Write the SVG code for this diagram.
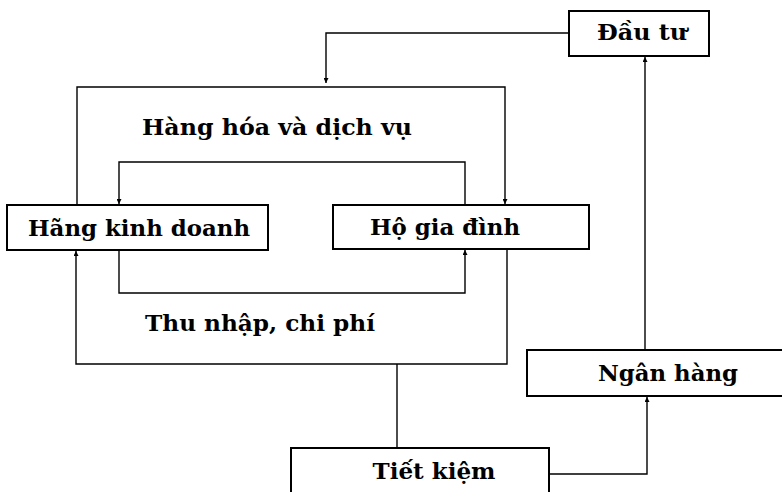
<svg xmlns="http://www.w3.org/2000/svg" width="782" height="492" viewBox="0 0 782 492">
<style>
.box{fill:#fff;stroke:#000;stroke-width:2}
.lbl{font-family:"DejaVu Serif","Liberation Serif",serif;font-weight:bold;font-size:23px;fill:#000;text-anchor:middle}
.ln{fill:none;stroke:#000;stroke-width:1.4}
</style>
<defs>
<marker id="ah" viewBox="0 0 8 8" refX="8" refY="4" markerWidth="6" markerHeight="5" markerUnits="userSpaceOnUse" orient="auto">
<path d="M0,0 L8,4 L0,8 z" fill="#000"/>
</marker>
</defs>
<rect width="782" height="492" fill="#fff"/>
<g id="connectors">
<path class="ln" d="M569,33 H326 V83" marker-end="url(#ah)"/>
<path class="ln" d="M77,205 V87 H505 V204" marker-end="url(#ah)"/>
<path class="ln" d="M465,205 V162 H119 V204" marker-end="url(#ah)"/>
<path class="ln" d="M119,250 V293 H465 V250" marker-end="url(#ah)"/>
<path class="ln" d="M507,250 V364 H76 V251" marker-end="url(#ah)"/>
<path class="ln" d="M397,364 V448"/>
<path class="ln" d="M549,474 H647 V397" marker-end="url(#ah)"/>
<path class="ln" d="M645,350 V57" marker-end="url(#ah)"/>
</g>
<g id="dau-tu">
<rect class="box" x="569" y="11" width="140" height="45"/>
<text class="lbl" x="642" y="40" textLength="90" lengthAdjust="spacingAndGlyphs">Đầu tư</text>
</g>
<g id="hang-kinh-doanh">
<rect class="box" x="7" y="205" width="261" height="45"/>
<text class="lbl" x="139" y="236" textLength="222" lengthAdjust="spacingAndGlyphs">Hãng kinh doanh</text>
</g>
<g id="ho-gia-dinh">
<rect class="box" x="333" y="205" width="256" height="44"/>
<text class="lbl" x="445" y="235" textLength="150" lengthAdjust="spacingAndGlyphs">Hộ gia đình</text>
</g>
<g id="ngan-hang">
<rect class="box" x="527" y="350" width="270" height="46"/>
<text class="lbl" x="668" y="381" textLength="140" lengthAdjust="spacingAndGlyphs">Ngân hàng</text>
</g>
<g id="tiet-kiem">
<rect class="box" x="291" y="448" width="258" height="60"/>
<text class="lbl" x="434" y="479" textLength="123" lengthAdjust="spacingAndGlyphs">Tiết kiệm</text>
</g>
<g id="labels">
<text class="lbl" x="277" y="135" textLength="270" lengthAdjust="spacingAndGlyphs">Hàng hóa và dịch vụ</text>
<text class="lbl" x="260" y="331" textLength="230" lengthAdjust="spacingAndGlyphs">Thu nhập, chi phí</text>
</g>
</svg>
